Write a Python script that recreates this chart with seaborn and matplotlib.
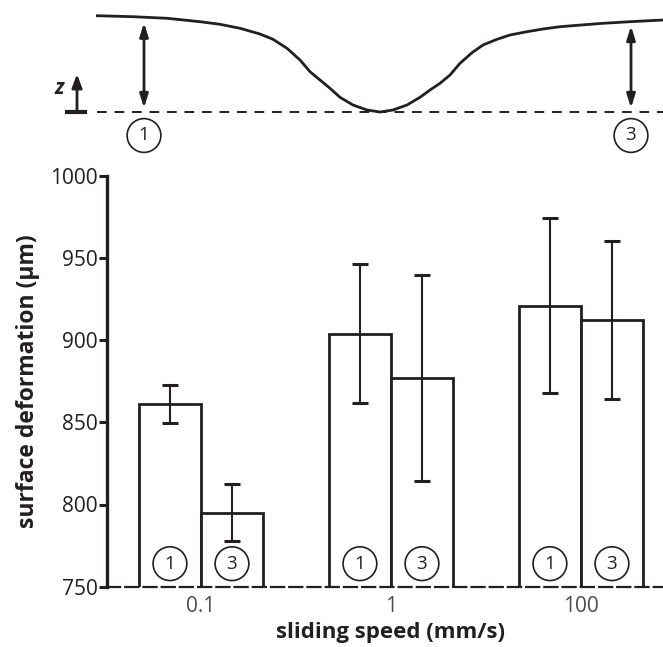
import pandas as pd
import numpy as np
import matplotlib
matplotlib.use("Agg")
import matplotlib.pyplot as plt
import matplotlib.transforms as mtransforms
import seaborn as sns

# bar data
speeds = ["0.1", "1", "100"]
positions = ["1", "3"]
deform_pos1 = [861, 904, 921]
deform_pos3 = [795, 877, 912]
err_pos1 = [11.5, 42, 53]
err_pos3 = [17.5, 62.5, 48]

# schematic surface profile (x in px, height above the baseline in px)
profile_x = [96, 133, 167, 200, 220, 240, 260, 273, 287, 300, 310, 320, 330, 340,
             353, 367, 380, 393, 407, 420, 430, 440, 450, 460, 472, 483, 497, 510,
             527, 543, 560, 600, 630, 663]
profile_z = [96.3, 95.3, 93.7, 90.3, 87.7, 83.7, 78, 72.7, 63.7, 52, 40.3, 32, 23.7,
             14.7, 7, 2, 0, 2, 7, 14.7, 22, 28.7, 37, 48.7, 59.3, 67, 72.7, 77,
             80.3, 83, 85.3, 88.5, 90.3, 92]
baseline_x = [97, 663]
probe_x = [144, 631]
probe_top = [89.3, 86]
probe_labels = ["1", "3"]

df = pd.DataFrame({
    "speed": speeds * 2,
    "position": ["1"] * 3 + ["3"] * 3,
    "deformation": deform_pos1 + deform_pos3,
})
errs = {"1": err_pos1, "3": err_pos3}

sns.set_style("ticks")
plt.rcParams["font.family"] = ["Open Sans", "DejaVu Sans"]

ink = "#231f20"
circle_box = dict(boxstyle="circle,pad=0.42", fc="white", ec=ink, lw=1.2)
fig = plt.figure(figsize=(6.63, 6.47), dpi=100)

# ---- top schematic ----
top = fig.add_axes([0, 1 - 160 / 647, 1, 160 / 647])
top.set_xlim(0, 663)
top.set_ylim(-48, 112)
top.axis("off")
sns.lineplot(x=profile_x, y=profile_z, sort=False, estimator=None, color=ink, lw=2,
             ax=top, solid_joinstyle="round", solid_capstyle="butt")
top.plot(baseline_x, [0, 0], color=ink, lw=1.4, ls=(0, (5, 4)))
for px, pt, lab in zip(probe_x, probe_top, probe_labels):
    top.annotate("", xy=(px, pt), xytext=(px, 4),
                 arrowprops=dict(arrowstyle="<|-|>,head_length=0.8,head_width=0.25",
                                 color=ink, lw=2, shrinkA=0, shrinkB=0))
    top.text(px, -23.5, lab, ha="center", va="center", fontsize=13.5, color=ink,
             bbox=circle_box)
# z axis marker
top.plot([65, 87], [0, 0], color=ink, lw=3, solid_capstyle="butt")
top.annotate("", xy=(77, 38), xytext=(77, 0),
             arrowprops=dict(arrowstyle="-|>,head_length=0.8,head_width=0.3",
                             color=ink, lw=2, shrinkA=0, shrinkB=0))
top.text(59, 23, "z", ha="center", va="center", fontsize=15, style="italic",
         fontweight="bold", color=ink)

# ---- bar chart ----
ax = fig.add_axes([107.3 / 663, 1 - 586.7 / 647, 1 - 107.3 / 663, 411 / 647])
sns.barplot(data=df, x="speed", y="deformation", hue="position", order=speeds,
            hue_order=positions, palette=["white", "white"], edgecolor=ink,
            linewidth=2, width=0.653, errorbar=None, legend=False, ax=ax)

blend = mtransforms.blended_transform_factory(ax.transData, ax.transAxes)
for cont, pos in zip(ax.containers, positions):
    for bar, e in zip(cont, errs[pos]):
        xc = bar.get_x() + bar.get_width() / 2
        h = bar.get_height()
        ax.errorbar(xc, h, yerr=e, color=ink, lw=1.5, capsize=6, capthick=2.2)
        ax.text(xc, 0.056, pos, transform=blend, ha="center", va="center",
                fontsize=13.5, color=ink, bbox=circle_box)

ax.set_ylim(750, 1000)
ax.set_xlim(-0.493, 2.432)
ax.set_yticks([750, 800, 850, 900, 950, 1000])
sns.despine(ax=ax)
ax.spines["left"].set_linewidth(2.4)
ax.spines["left"].set_color(ink)
ax.spines["bottom"].set_linewidth(1.6)
ax.spines["bottom"].set_color(ink)
ax.spines["bottom"].set_linestyle((0, (5.9, 2.3)))
ax.tick_params(axis="y", length=6, width=2.2, color=ink, labelsize=15,
               labelcolor=ink, pad=1)
ax.tick_params(axis="x", length=0, labelsize=15, labelcolor="#4d4d4d", pad=7)
ax.set_ylabel("surface deformation (\u03bcm)", fontsize=16.5, fontweight="bold",
              color=ink, labelpad=7)
ax.set_xlabel("sliding speed (mm/s)", fontsize=16, fontweight="bold", color=ink)
ax.xaxis.set_label_coords(0.51, -0.086)

fig.savefig("out.png", dpi=100)
